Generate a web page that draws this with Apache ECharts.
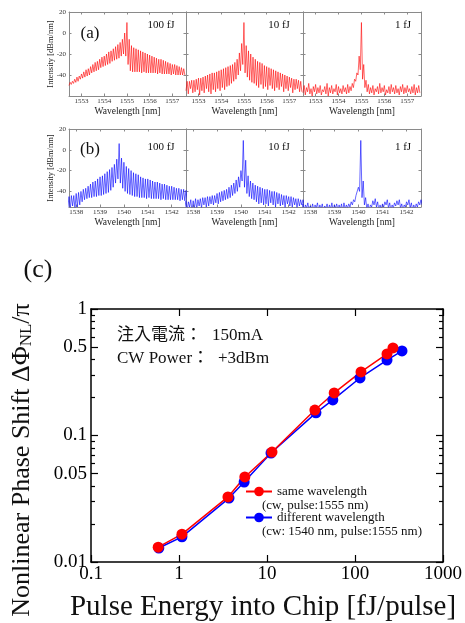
<!DOCTYPE html>
<html>
<head>
<meta charset="utf-8">
<script src="https://cdn.jsdelivr.net/npm/echarts@6/dist/echarts.min.js"></script>
<style>
  html, body { margin: 0; padding: 0; background: #fff; }
  #chart { width: 465px; height: 623px; }
</style>
</head>
<body>
<div id="chart"></div>
<script>
// comb line wavelengths [nm], row (a) pulse/cw 1555 nm
const wlA = [1552.5, 1552.6, 1552.7, 1552.8, 1552.9,
  1553.0, 1553.1, 1553.2, 1553.3, 1553.4, 1553.5, 1553.6, 1553.7, 1553.8, 1553.9,
  1554.0, 1554.1, 1554.2, 1554.3, 1554.4, 1554.5, 1554.6, 1554.7, 1554.8, 1554.9,
  1555.0, 1555.1, 1555.2, 1555.3, 1555.4, 1555.5, 1555.6, 1555.7, 1555.8, 1555.9,
  1556.0, 1556.1, 1556.2, 1556.3, 1556.4, 1556.5, 1556.6, 1556.7, 1556.8, 1556.9,
  1557.0, 1557.1, 1557.2, 1557.3, 1557.4, 1557.5]
// row (b) cw 1540 nm
const wlB = [1537.7, 1537.8, 1537.9,
  1538.0, 1538.1, 1538.2, 1538.3, 1538.4, 1538.5, 1538.6, 1538.7, 1538.8, 1538.9,
  1539.0, 1539.1, 1539.2, 1539.3, 1539.4, 1539.5, 1539.6, 1539.7, 1539.8, 1539.9,
  1540.0, 1540.1, 1540.2, 1540.3, 1540.4, 1540.5, 1540.6, 1540.7, 1540.8, 1540.9,
  1541.0, 1541.1, 1541.2, 1541.3, 1541.4, 1541.5, 1541.6, 1541.7, 1541.8, 1541.9,
  1542.0, 1542.1, 1542.2, 1542.3, 1542.4, 1542.5, 1542.6]

// spectra [dBm/nm]: peak of each comb line and the floor just before it
const a100Peak = [-47, -46, -44, -42, -41,
  -39, -37, -35, -34, -32, -30, -28, -27, -25, -23,
  -22, -20, -18, -17, -15, -13, -11, -9, -6, 0,
  10, -6, -12, -14, -15, -16, -17, -18, -19, -20,
  -21, -22, -23, -24, -25, -25, -26, -27, -28, -29,
  -30, -30, -31, -32, -33, -34]
const a100Floor = [-50, -49, -48, -47, -46,
  -44, -43, -42, -41, -40, -38, -37, -36, -35, -33,
  -32, -31, -30, -29, -27, -26, -25, -24, -22, -20,
  -22, -30, -36, -37, -37, -37, -37, -38, -37, -38,
  -38, -38, -38, -38, -39, -38, -39, -39, -39, -39,
  -40, -39, -40, -40, -40, -40]
const a10Peak = [-46, -46, -45, -45, -44,
  -43, -43, -42, -41, -40, -39, -38, -38, -37, -36,
  -35, -34, -33, -32, -31, -30, -28, -25, -19, -10,
  10, -12, -17, -20, -23, -25, -27, -28, -29, -31,
  -32, -33, -34, -35, -36, -37, -38, -39, -40, -41,
  -42, -43, -44, -44, -45, -46]
const a10Floor = [-55, -58, -53, -57, -56,
  -54, -59, -55, -57, -53, -56, -58, -54, -56, -53,
  -55, -52, -54, -51, -50, -48, -46, -44, -40, -36,
  -30, -38, -42, -45, -47, -48, -50, -52, -49, -53,
  -51, -54, -50, -53, -55, -52, -54, -51, -56, -53,
  -55, -52, -57, -54, -53, -56]
const a1Peak = [-50, -52, -48, -53, -51,
  -49, -52, -50, -54, -51, -48, -52, -50, -53, -49,
  -51, -53, -50, -52, -49, -51, -48, -44, -38, -22,
  10, -30, -45, -49, -52, -50, -53, -51, -48, -52,
  -50, -54, -51, -49, -52, -50, -53, -51, -49, -52,
  -50, -53, -51, -49, -52, -50]
const a1Floor = [-57, -59, -56, -58, -60,
  -56, -58, -57, -59, -56, -58, -60, -57, -58, -56,
  -59, -57, -58, -56, -58, -57, -55, -52, -46, -40,
  -35, -44, -52, -56, -58, -57, -59, -56, -58, -57,
  -56, -59, -57, -58, -56, -58, -57, -59, -56, -58,
  -57, -56, -58, -57, -59, -57]

const b100Peak = [-45, -44, -44,
  -42, -41, -40, -38, -37, -35, -33, -31, -30, -28,
  -26, -25, -23, -21, -19, -17, -14, -9, 6, -8,
  -12, -16, -18, -20, -22, -23, -24, -26, -27, -28,
  -28, -29, -30, -31, -31, -32, -33, -33, -34, -35,
  -35, -36, -37, -37, -38, -38, -39]
const b100Floor = [-56, -58, -54,
  -57, -55, -53, -50, -48, -47, -46, -46, -45, -45,
  -44, -44, -43, -42, -41, -39, -36, -32, -28, -32,
  -37, -40, -42, -43, -44, -45, -45, -46, -46, -46,
  -47, -46, -47, -47, -47, -47, -48, -47, -48, -48,
  -48, -48, -48, -48, -49, -48, -49]
const b10Peak = [-49, -50, -48,
  -49, -47, -48, -47, -46, -46, -45, -45, -44, -44,
  -42, -41, -40, -39, -38, -36, -34, -32, -29, -26,
  -20, 9, -10, -25, -30, -32, -34, -35, -36, -37,
  -38, -38, -39, -40, -40, -41, -42, -43, -44, -44,
  -45, -45, -46, -47, -47, -48, -48]
const b10Floor = [-56, -58, -55,
  -59, -56, -57, -54, -56, -53, -55, -54, -52, -53,
  -51, -52, -50, -49, -48, -47, -46, -44, -42, -40,
  -36, -30, -36, -42, -45, -47, -48, -50, -52, -51,
  -53, -52, -54, -51, -53, -55, -52, -54, -53, -56,
  -52, -54, -55, -53, -56, -54, -53]
const b1Peak = [-52, -53, -51,
  -54, -52, -53, -51, -53, -52, -54, -52, -53, -51,
  -53, -52, -53, -52, -51, -53, -52, -50, -48, -44,
  -36, 9, -30, -46, -52, -53, -49, -47, -50, -53,
  -52, -50, -48, -51, -53, -51, -49, -48, -52, -53,
  -50, -48, -51, -53, -52, -50, -48]
const b1Floor = [-57, -59, -56,
  -58, -57, -59, -56, -58, -57, -59, -56, -58, -57,
  -59, -56, -58, -57, -59, -57, -56, -55, -53, -50,
  -45, -40, -46, -53, -57, -58, -55, -53, -55, -58,
  -57, -55, -53, -56, -58, -56, -54, -53, -56, -58,
  -55, -53, -56, -58, -57, -55, -53]

// (c) pulse energy [fJ/pulse] vs nonlinear phase shift [pi]
const energySame = [0.58, 1.08, 3.6, 5.6, 11.4, 35, 58, 117, 231, 270]
const phaseSame = [0.0131, 0.0166, 0.0327, 0.047, 0.074, 0.159, 0.217, 0.318, 0.441, 0.492]
const energyDiff = [0.59, 1.08, 3.7, 5.5, 11.1, 36, 56, 114, 231, 342]
const phaseDiff = [0.0129, 0.0158, 0.032, 0.0429, 0.0727, 0.151, 0.191, 0.285, 0.395, 0.466]

// tick labels
const tickA = [1553, 1554, 1555, 1556, 1557]
const tickB = [1538, 1539, 1540, 1541, 1542]
const tickDb = [-40, -20, 0, 20]
const phaseLabels = [1, 0.5, 0.1, 0.05, 0.01]
const energyLabels = ['100 fJ', '10 fJ', '1 fJ']

const serif = '"Liberation Serif", "Times New Roman", serif'
const mixed = '"Liberation Serif", "Noto Sans CJK JP", serif'
const frame = '#8a8a8a'

const chart = echarts.init(document.getElementById('chart'))

// one comb trace: floor -> peak for every line
function comb(wl, peak, floor) {
  const half = (wl[1] - wl[0]) / 2
  const pts = []
  wl.forEach((w, k) => {
    pts.push([w - half, floor[k]])
    pts.push([w, peak[k]])
  })
  pts.push([wl[wl.length - 1] + half, floor[floor.length - 1]])
  return pts
}

const rows = [
  { top: 12, height: 84, ymin: -60, xmin: 1552.45, xmax: 1557.6, ticks: tickA, wl: wlA, color: '#ff0000', labelY: 25,
    traces: [[a100Peak, a100Floor], [a10Peak, a10Floor], [a1Peak, a1Floor]] },
  { top: 129, height: 78, ymin: -55, xmin: 1537.7, xmax: 1542.6, ticks: tickB, wl: wlB, color: '#0000ff', labelY: 147,
    traces: [[b100Peak, b100Floor], [b10Peak, b10Floor], [b1Peak, b1Floor]] }
]
const cols = [[69, 117, 161], [186, 117, 279], [303, 118, 403]]

const grids = []
const xAxes = []
const yAxes = []
const series = []
const graphics = []

function specX(g, pos, row, withLabel) {
  return {
    gridIndex: g, type: 'value', position: pos, min: row.xmin, max: row.xmax,
    axisLine: { show: true, onZero: false, lineStyle: { color: frame, width: 1 } },
    axisTick: { show: true, inside: true, length: 2.5, customValues: row.ticks, lineStyle: { color: frame } },
    axisLabel: { show: withLabel, customValues: row.ticks, fontSize: 7, color: '#333', fontFamily: serif, margin: 2,
      formatter: v => String(v) },
    splitLine: { show: false },
    name: withLabel ? 'Wavelength [nm]' : '', nameLocation: 'middle', nameGap: 10, nameMoveOverlap: false,
    nameTextStyle: { fontSize: 9.5, color: '#222', fontFamily: serif }
  }
}
function specY(g, pos, row, withLabel) {
  return {
    gridIndex: g, type: 'value', position: pos, min: row.ymin, max: 20,
    axisLine: { show: true, onZero: false, lineStyle: { color: frame, width: 1 } },
    axisTick: { show: true, inside: true, length: 2.5, customValues: tickDb, lineStyle: { color: frame } },
    axisLabel: { show: withLabel, customValues: tickDb, fontSize: 7, color: '#333', fontFamily: serif, margin: 3 },
    splitLine: { show: false },
    name: withLabel ? 'Intensity [dBm/nm]' : '', nameLocation: 'middle', nameGap: 14, nameMoveOverlap: false,
    nameTextStyle: { fontSize: 8.5, color: '#222', fontFamily: serif }
  }
}

rows.forEach((row, r) => {
  cols.forEach((col, c) => {
    const g = r * 3 + c
    grids.push({ left: col[0], width: col[1], top: row.top, height: row.height, containLabel: false, outerBoundsMode: 'none' })
    xAxes.push(specX(g, 'bottom', row, true), specX(g, 'top', row, false))
    yAxes.push(specY(g, 'left', row, c === 0), specY(g, 'right', row, false))
    series.push({
      type: 'line', xAxisIndex: 2 * g, yAxisIndex: 2 * g,
      data: comb(row.wl, row.traces[c][0], row.traces[c][1]),
      showSymbol: false, symbol: 'none', clip: true, silent: true,
      lineStyle: { color: row.color, width: 0.6 }
    })
    graphics.push({ type: 'text', x: col[2], y: row.labelY, silent: true,
      style: { text: energyLabels[c], fontSize: 11, fontFamily: serif, fill: '#111', align: 'center', verticalAlign: 'middle' } })
  })
})

// (c)
grids.push({ left: 91, top: 309, width: 352, height: 253, containLabel: false, outerBoundsMode: 'none' })
const axisBlack = { color: '#000', width: 1.5 }
const logX = pos => ({
  gridIndex: 6, type: 'log', logBase: 10, min: 0.1, max: 1000, position: pos,
  axisLine: { show: true, onZero: false, lineStyle: axisBlack },
  axisTick: { show: true, inside: true, length: 7, lineStyle: { color: '#000', width: 1.2 } },
  axisLabel: { show: pos === 'bottom', fontSize: 19, color: '#000', fontFamily: serif, margin: 3,
    formatter: v => String(Number(v.toPrecision(3))) },
  minorTick: { show: false }, splitLine: { show: false }
})
xAxes.push(logX('bottom'), logX('top'))

const majorPos = phaseLabels.map(Math.log10)
const minorPos = []
;[0.01, 0.1].forEach(d => [2, 3, 4, 6, 7, 8, 9].forEach(m => minorPos.push(Math.log10(d * m))))
const helperY = (pos, ticks, len, line, labels) => ({
  gridIndex: 6, type: 'value', min: -2, max: 0, position: pos,
  axisLine: { show: line, onZero: false, lineStyle: axisBlack },
  axisTick: { show: true, inside: true, length: len, customValues: ticks, lineStyle: { color: '#000', width: 1.2 } },
  axisLabel: { show: labels, customValues: majorPos, fontSize: 19, color: '#000', fontFamily: serif, margin: 4,
    formatter: v => String(Number(Math.pow(10, v).toPrecision(1))) },
  splitLine: { show: false }
})
yAxes.push(
  { gridIndex: 6, type: 'log', logBase: 10, min: 0.01, max: 1, show: false },
  helperY('left', majorPos, 7, true, true),
  helperY('left', minorPos, 4, false, false),
  helperY('right', majorPos, 7, true, false),
  helperY('right', minorPos, 4, false, false)
)

series.push(
  { name: 'different wavelength', type: 'line', xAxisIndex: 12, yAxisIndex: 12,
    data: energyDiff.map((e, i) => [e, phaseDiff[i]]),
    symbol: 'circle', symbolSize: 11, itemStyle: { color: '#0000ff' }, lineStyle: { color: '#0000ff', width: 1.5 } },
  { name: 'same wavelength', type: 'line', xAxisIndex: 12, yAxisIndex: 12,
    data: energySame.map((e, i) => [e, phaseSame[i]]),
    symbol: 'circle', symbolSize: 11, itemStyle: { color: '#ff0000' }, lineStyle: { color: '#ff0000', width: 1.5 } }
)

const txt = (text, x, y, size, align, font) => ({
  type: 'text', x: x, y: y, silent: true,
  style: { text: text, fontSize: size, fontFamily: font || serif, fill: '#111', align: align || 'center', verticalAlign: 'middle' }
})
graphics.push(
  txt('(a)', 90, 34, 17),
  txt('(b)', 90, 150, 17),
  txt('(c)', 38, 270, 26),
  txt('注入電流：', 117, 336, 17, 'left', mixed),
  txt('150mA', 212, 336, 17, 'left'),
  txt('CW Power：', 117, 359, 17, 'left', mixed),
  txt('+3dBm', 218, 359, 17, 'left'),
  txt('(cw, pulse:1555 nm)', 262, 506, 13, 'left'),
  txt('(cw: 1540 nm, pulse:1555 nm)', 262, 532, 13, 'left'),
  txt('Pulse Energy into Chip [fJ/pulse]', 263, 607, 29),
  { type: 'text', x: 22, y: 460, rotation: Math.PI / 2, silent: true,
    style: { text: '{a|Nonlinear Phase Shift ΔΦ}{b|NL}{a|/π}', align: 'center', verticalAlign: 'middle',
      rich: {
        a: { fontSize: 26, fontFamily: serif, fill: '#111' },
        b: { fontSize: 17, fontFamily: serif, fill: '#111', verticalAlign: 'bottom', lineHeight: 8 }
      } } }
)

chart.setOption({
  animation: false,
  backgroundColor: '#fff',
  grid: grids,
  xAxis: xAxes,
  yAxis: yAxes,
  legend: {
    data: ['same wavelength', 'different wavelength'], orient: 'vertical', left: 245, top: 485,
    itemWidth: 26, itemHeight: 12, itemGap: 13, padding: 0, selectedMode: false,
    textStyle: { fontSize: 13, fontFamily: serif, color: '#111' }
  },
  series: series,
  graphic: graphics
})
</script>
</body>
</html>
